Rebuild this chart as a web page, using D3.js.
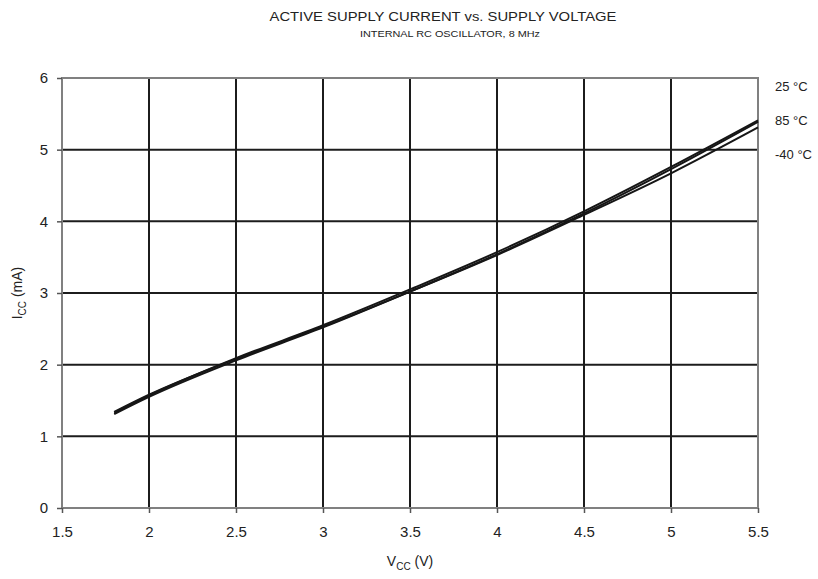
<!DOCTYPE html>
<html lang="en">
<head>
<meta charset="utf-8">
<title>Active supply current vs. supply voltage</title>
<script src="https://d3js.org/d3.v7.min.js"></script>
<style>
  body { margin: 0; background: #fff; }
  text { font-family: "Liberation Sans", Arial, sans-serif; fill: #222; }
</style>
</head>
<body>
<div id="chart"></div>
<script>
  // data
  var vcc = [1.8, 2, 2.5, 3, 3.5, 4, 4.5, 5, 5.5];
  var icc_25 = [1.33, 1.57, 2.09, 2.55, 3.05, 3.57, 4.14, 4.76, 5.41];
  var icc_85 = [1.31, 1.55, 2.06, 2.52, 3.02, 3.54, 4.11, 4.73, 5.39];
  var icc_m40 = [1.34, 1.58, 2.08, 2.53, 3.02, 3.53, 4.09, 4.67, 5.31];
  var series_names = ['25 °C', '85 °C', '-40 °C'];
  var x_ticks = [1.5, 2, 2.5, 3, 3.5, 4, 4.5, 5, 5.5];
  var y_ticks = [0, 1, 2, 3, 4, 5, 6];

  var W = 818, H = 579;
  var margin = {top: 78, right: 60, bottom: 71, left: 62},
      width = W - margin.left - margin.right,
      height = H - margin.top - margin.bottom;

  var svg = d3.select("#chart").append("svg")
      .attr("width", W).attr("height", H);

  // titles
  svg.append("text").attr("x", 443).attr("y", 21)
     .attr("text-anchor", "middle").style("font-size", "12.5px")
     .attr("textLength", 347).attr("lengthAdjust", "spacingAndGlyphs")
     .text("ACTIVE SUPPLY CURRENT vs. SUPPLY VOLTAGE");
  svg.append("text").attr("x", 450).attr("y", 37)
     .attr("text-anchor", "middle").style("font-size", "9px")
     .attr("textLength", 180).attr("lengthAdjust", "spacingAndGlyphs")
     .text("INTERNAL RC OSCILLATOR, 8 MHz");

  var g = svg.append("g")
      .attr("transform", "translate(" + margin.left + "," + margin.top + ")");

  var x = d3.scaleLinear().domain([1.5, 5.5]).range([0, width]);
  var y = d3.scaleLinear().domain([0, 6]).range([height, 0]);

  // grid
  g.selectAll(".vgrid").data(x_ticks.slice(1, -1)).enter().append("line")
   .attr("x1", function(d) { return x(d); }).attr("x2", function(d) { return x(d); })
   .attr("y1", 0).attr("y2", height)
   .attr("stroke", "#1c1c1c").attr("stroke-width", 2);
  g.selectAll(".hgrid").data(y_ticks.slice(1, -1)).enter().append("line")
   .attr("x1", 0).attr("x2", width)
   .attr("y1", function(d) { return y(d); }).attr("y2", function(d) { return y(d); })
   .attr("stroke", "#1c1c1c").attr("stroke-width", 2);

  // frame
  g.append("rect").attr("width", width).attr("height", height)
   .attr("fill", "none").attr("stroke", "#808080").attr("stroke-width", 2);

  // axes
  var xAxis = d3.axisBottom(x).tickValues(x_ticks).tickSize(5).tickPadding(13)
      .tickFormat(d3.format("~g"));
  var xg = g.append("g").attr("transform", "translate(0," + height + ")").call(xAxis);
  var yAxis = d3.axisLeft(y).tickValues(y_ticks).tickSize(5).tickPadding(9)
      .tickFormat(d3.format("d"));
  var yg = g.append("g").call(yAxis);
  [xg, yg].forEach(function(a) {
    a.select(".domain").remove();
    a.selectAll(".tick line").attr("stroke", "#555").attr("stroke-width", 1.5);
    a.selectAll(".tick text").style("font-size", "15px").style("font-family", "Liberation Sans, Arial, sans-serif").attr("fill", "#222");
  });

  // curves
  var line = d3.line()
      .x(function(d) { return x(d[0]); })
      .y(function(d) { return y(d[1]); })
      .curve(d3.curveMonotoneX);
  [icc_25, icc_85, icc_m40].forEach(function(s) {
    g.append("path")
     .datum(vcc.map(function(v, i) { return [v, s[i]]; }))
     .attr("fill", "none").attr("stroke", "#161616").attr("stroke-width", 2)
     .attr("d", line);
  });

  // series labels
  var label_y = [13, 47, 81];
  series_names.forEach(function(n, i) {
    g.append("text").attr("x", width + 17).attr("y", label_y[i])
     .style("font-size", "13px").text(n);
  });

  // axis titles
  var xt = svg.append("text").attr("x", 410).attr("y", 566)
     .attr("text-anchor", "middle").style("font-size", "14px");
  xt.append("tspan").text("V");
  xt.append("tspan").attr("dy", 4).style("font-size", "10px").text("CC");
  xt.append("tspan").attr("dy", -4).text(" (V)");

  var yt = svg.append("text")
     .attr("transform", "translate(22," + (margin.top + height / 2) + ") rotate(-90)")
     .attr("text-anchor", "middle").style("font-size", "14px");
  yt.append("tspan").text("I");
  yt.append("tspan").attr("dy", 4).style("font-size", "10px").text("CC");
  yt.append("tspan").attr("dy", -4).text(" (mA)");
</script>
</body>
</html>
